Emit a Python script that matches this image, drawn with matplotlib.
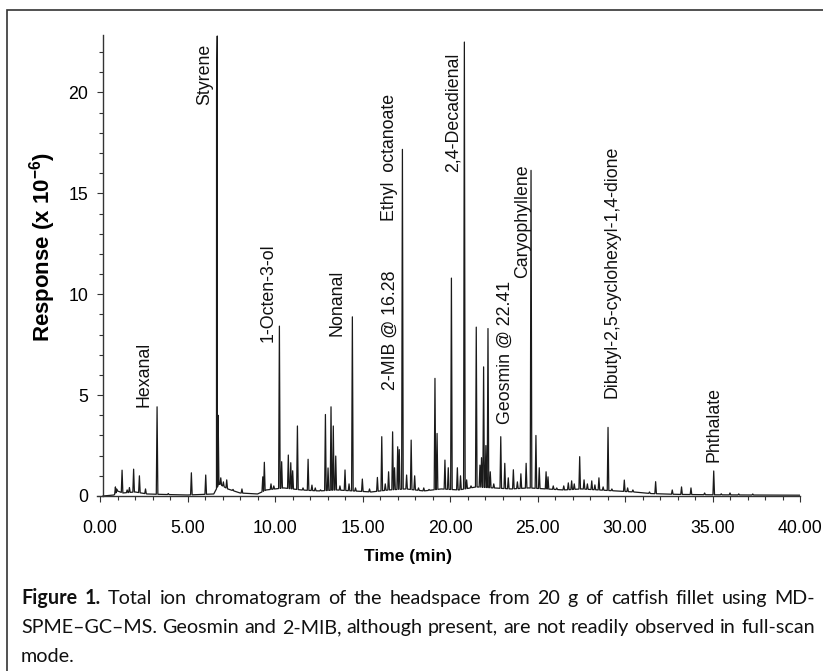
import numpy as np
import matplotlib
matplotlib.use('Agg')
import matplotlib.pyplot as plt
from matplotlib.ticker import MultipleLocator, FormatStrFormatter
from matplotlib.patches import Rectangle

plt.rcParams['font.family'] = ['Liberation Sans', 'DejaVu Sans']
plt.rcParams['mathtext.fontset'] = 'custom'
plt.rcParams['mathtext.rm'] = 'Liberation Sans'
plt.rcParams['mathtext.bf'] = 'Liberation Sans:bold'

# peaks: retention time (min), response (x 10^-6)
peak_rt = [0.88, 0.95, 1.26, 1.55, 1.68, 1.92, 2.25, 2.60, 3.26, 3.90,
           5.22, 6.04, 6.66, 6.70, 6.75, 6.90, 7.05, 7.24, 7.60, 8.11,
           9.30, 9.39, 9.77, 9.93, 10.25, 10.38, 10.76, 10.90, 11.01, 11.28,
           11.60, 11.89, 12.11, 12.30, 12.60, 12.88, 13.03, 13.20, 13.33, 13.47,
           13.71, 14.00, 14.23, 14.42, 14.60, 14.99, 15.40, 15.85, 16.10, 16.30,
           16.49, 16.72, 16.83, 17.01, 17.10, 17.28, 17.52, 17.78, 17.98, 18.20,
           18.50, 18.80, 19.14, 19.26, 19.71, 19.90, 20.08, 20.42, 20.60, 20.82,
           20.95, 21.20, 21.50, 21.71, 21.80, 21.92, 22.05, 22.17, 22.30, 22.50,
           22.90, 23.13, 23.33, 23.62, 23.85, 24.05, 24.35, 24.63, 24.91, 25.10,
           25.49, 25.60, 25.90, 26.10, 26.50, 26.76, 26.95, 27.10, 27.41, 27.66,
           27.85, 28.10, 28.28, 28.51, 28.75, 29.03, 29.25, 29.96, 30.15, 30.45,
           31.40, 31.75, 32.70, 33.23, 33.77, 34.55, 35.07, 35.50, 36.00, 36.50,
           37.30]
peak_h = [0.45, 0.35, 1.28, 0.30, 0.42, 1.33, 1.00, 0.35, 4.42, 0.12,
          1.15, 1.04, 20.0, 22.8, 4.0, 0.90, 0.70, 0.80, 0.15, 0.35,
          0.95, 1.67, 0.60, 0.50, 8.42, 1.70, 2.03, 1.65, 1.25, 3.47,
          0.40, 1.82, 0.54, 0.40, 0.30, 4.04, 1.39, 4.42, 3.47, 1.98,
          0.50, 1.29, 0.60, 8.88, 0.40, 0.84, 0.35, 0.92, 2.94, 0.60,
          1.20, 3.18, 1.40, 2.44, 2.30, 17.18, 1.04, 2.77, 1.00, 0.40,
          0.40, 0.30, 5.83, 3.10, 1.78, 1.40, 10.80, 1.40, 1.00, 22.50,
          0.80, 0.50, 8.37, 1.53, 1.90, 6.40, 2.50, 8.30, 1.20, 0.60,
          2.94, 1.62, 0.90, 1.30, 0.70, 1.10, 1.62, 16.14, 3.00, 1.40,
          1.20, 0.95, 0.50, 0.40, 0.50, 0.65, 0.75, 0.60, 1.95, 0.80,
          0.60, 0.75, 0.55, 0.90, 0.45, 3.40, 0.35, 0.79, 0.40, 0.30,
          0.20, 0.71, 0.30, 0.45, 0.40, 0.15, 1.24, 0.10, 0.15, 0.10,
          0.08]

# baseline level under the peaks
base_t = [0.17, 0.8, 1.0, 1.3, 2.0, 2.7, 3.5, 5.0, 6.5, 6.8, 7.3, 8.0, 9.0,
          9.5, 10.5, 11.5, 12.5, 13.5, 14.5, 15.5, 16.5, 17.5, 18.5, 19.5,
          20.5, 21.5, 22.5, 23.5, 24.5, 25.5, 26.5, 27.5, 28.5, 29.5, 30.5,
          31.5, 33.0, 35.0, 37.0, 40.0]
base_v = [0.0, 0.05, 0.25, 0.15, 0.2, 0.1, 0.08, 0.05, 0.1, 0.6, 0.35, 0.15,
          0.1, 0.3, 0.4, 0.3, 0.25, 0.3, 0.25, 0.2, 0.3, 0.35, 0.25, 0.35,
          0.3, 0.45, 0.4, 0.35, 0.4, 0.35, 0.3, 0.35, 0.3, 0.25, 0.2, 0.12,
          0.08, 0.06, 0.05, 0.04]

labels = ['Hexanal', 'Styrene', '1-Octen-3-ol', 'Nonanal', '2-MIB @ 16.28',
          'Ethyl  octanoate', '2,4-Decadienal', 'Geosmin @ 22.41',
          'Caryophyllene', 'Dibutyl-2,5-cyclohexyl-1,4-dione', 'Phthalate']
label_x = [2.54, 6.0, 9.6, 13.54, 16.57, 16.57, 20.17, 23.14, 24.17, 29.26, 35.09]
label_y = [4.41, 19.4, 7.62, 7.92, 5.25, 13.61, 16.04, 3.56, 10.79, 4.85, 1.68]

W, H = 823, 671
fig = plt.figure(figsize=(W / 100, H / 100), dpi=100)

# axes box in pixels
x0px, x1px, ytop, ybot = 97.4, 800, 35, 496
ax = fig.add_axes([x0px / W, (H - ybot) / H, (x1px - x0px) / W, (ybot - ytop) / H])

# build the trace from baseline and spikes
hw = 0.045
bt = np.array(base_t)
bv = np.array(base_v)
keep = [all(abs(t - r) > hw for r in peak_rt) for t in bt]
verts = [(t, v) for t, v, k in zip(bt, bv, keep) if k]
for r, h in zip(peak_rt, peak_h):
    b1 = np.interp(r - hw, bt, bv)
    b2 = np.interp(r + hw, bt, bv)
    verts += [(r - hw, b1), (r, max(h, b1 + 0.05)), (r + hw, b2)]
verts.sort()
tx = [p[0] for p in verts]
ty = [p[1] for p in verts]
ax.plot(tx, ty, color='#1a1a1a', lw=0.9)

ax.set_xlim(-0.15, 40)
ax.set_ylim(0, 22.85)
for s in ['top', 'right']:
    ax.spines[s].set_visible(False)
ax.spines['left'].set_position(('data', 0.17))
for s in ['left', 'bottom']:
    ax.spines[s].set_color('#333333')
    ax.spines[s].set_linewidth(1.0)

ax.xaxis.set_major_locator(MultipleLocator(5))
ax.xaxis.set_minor_locator(MultipleLocator(1))
ax.xaxis.set_major_formatter(FormatStrFormatter('%.2f'))
ax.yaxis.set_major_locator(MultipleLocator(5))
ax.yaxis.set_minor_locator(MultipleLocator(1))
ax.tick_params(axis='both', which='both', direction='out', color='#333333', width=0.8)
ax.tick_params(axis='both', which='major', length=4.5, labelsize=12.8)
ax.tick_params(axis='both', which='minor', length=3)
ax.tick_params(axis='x', which='major', pad=13)
ax.tick_params(axis='y', which='major', pad=6)

for txt, lx, ly in zip(labels, label_x, label_y):
    ax.text(lx, ly, txt, rotation=90, ha='center', va='bottom', fontsize=12.8, color='#111111')

fig.text(43 / W, 1 - 247 / H, r'Response (x 10$^{\mathbf{-6}}$)', rotation=90,
         ha='center', va='center', fontsize=16, fontweight='bold')
fig.text(408.5 / W, 1 - 557 / H, 'Time (min)', ha='center', va='center',
         fontsize=12.5, fontweight='bold')

# outer frame
fig.patches.append(Rectangle((7 / W, -0.05), 1.1, 1 - 10 / H + 0.05, transform=fig.transFigure,
                             fill=False, edgecolor='#333333', lw=1.2))

# caption, justified like the journal layout
cap_font = ['Lato', 'DejaVu Sans']
cap_size = 14.2
lines = [
    [('Figure', 'bold'), ('1.', 'bold'), 'Total', 'ion', 'chromatogram', 'of', 'the', 'headspace',
     'from', '20', 'g', 'of', 'catfish', 'fillet', 'using', 'MD-'],
    ['SPME\u2013GC\u2013MS.', 'Geosmin', 'and', '2-MIB,', 'although', 'present,', 'are', 'not',
     'readily', 'observed', 'in', 'full-scan'],
    ['mode.'],
]
base_y = [604, 633, 662]
cx0, cx1 = 21, 815
renderer = fig.canvas.get_renderer()
for words, yb in zip(lines, base_y):
    items = []
    for w in words:
        if isinstance(w, tuple):
            t = fig.text(0, 1 - yb / H, w[0], fontsize=cap_size, fontweight=w[1],
                         family=cap_font, va='baseline', color='#111111')
        else:
            t = fig.text(0, 1 - yb / H, w, fontsize=cap_size, family=cap_font,
                         va='baseline', color='#111111')
        items.append((t, t.get_window_extent(renderer).width))
    total = sum(wd for _, wd in items)
    if len(items) > 1:
        gap = (cx1 - cx0 - total) / (len(items) - 1)
    else:
        gap = 0
    x = cx0
    for t, wd in items:
        t.set_x(x / W)
        x += wd + gap

fig.savefig('out.png', dpi=100)
